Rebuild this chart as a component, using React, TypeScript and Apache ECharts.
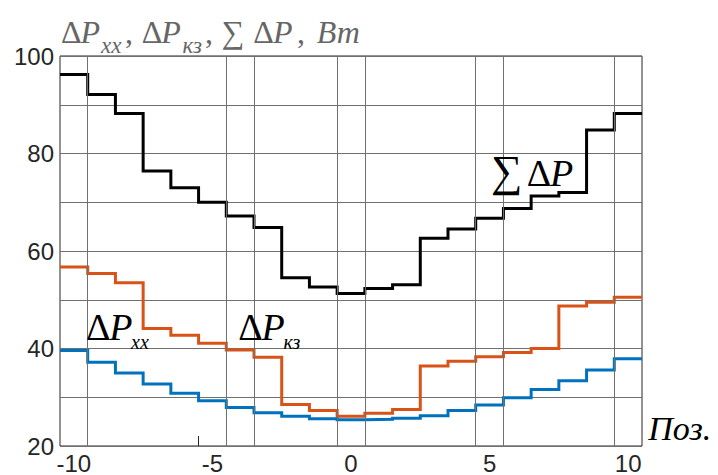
import React, { useEffect, useRef } from "react";
import * as echarts from "echarts";

// Positions (x categories)
const positions = [-10, -9, -8, -7, -6, -5, -4, -3, -2, -1, 0, 1, 2, 3, 4, 5, 6, 7, 8, 9, 10];
// ΣΔP (black)
const sumLoss = [96.2, 92.1, 88.2, 76.4, 73.0, 70.0, 67.2, 64.8, 54.5, 52.6, 51.3, 52.3, 53.1, 62.6, 64.5, 66.7, 68.7, 71.3, 72.0, 84.8, 88.2];
// ΔPкз (orange)
const shortCircuitLoss = [56.7, 55.4, 53.5, 44.1, 42.7, 41.1, 39.7, 38.2, 28.5, 27.3, 26.1, 26.7, 27.5, 36.4, 37.4, 38.3, 39.2, 40.0, 48.7, 49.5, 50.5];
// ΔPxx (blue)
const noLoadLoss = [39.6, 37.2, 35.0, 32.7, 30.8, 29.3, 27.9, 26.8, 26.1, 25.6, 25.4, 25.5, 25.7, 26.2, 27.3, 28.4, 29.9, 31.6, 33.4, 35.6, 37.9];

const xTickLabels = [-10, -5, 0, 5, 10];
const yTickLabels = [20, 40, 60, 80, 100];
const xGridLines = [-9.5, -4.5, -3.5, -0.5, 0.5, 4.5, 5.5, 9.5];
const xExtraTicks = [-5.5];

const stepData = (vals: number[]) =>
  positions.flatMap((p, i) => [
    [p - 0.5, vals[i]],
    [p + 0.5, vals[i]],
  ]);

const SERIF = "Liberation Serif";
const SANS = "Liberation Sans";

const T = (x: number, base: number, text: string, size: number, italic: boolean, color: string) => ({
  type: "text",
  x,
  y: base - 0.3375 * size,
  silent: true,
  z: 20,
  style: {
    text,
    fontFamily: SERIF,
    fontSize: size,
    fontStyle: italic ? "italic" : "normal",
    fill: color,
    align: "left",
    verticalAlign: "middle",
  },
});

export default function App() {
  const ref = useRef<HTMLDivElement>(null);
  useEffect(() => {
    if (!ref.current) return;
    const chart = echarts.init(ref.current, undefined, { renderer: "svg" });
    const gray = "#666666";
    const blk = "#000000";
    const tS = 32;
    const tSub = 23;
    const tB = 43;
    const tSB = 53;
    const lS = 38;
    const lSub = 20;
    const graphics = [
      // title
      T(61, tB, "Δ", tS, false, gray),
      T(80.6, tB, "P", tS, true, gray),
      T(101, tSB, "xx", tSub, true, gray),
      T(125, tB, ",", tS, false, gray),
      T(141.7, tB, "Δ", tS, false, gray),
      T(161.3, tB, "P", tS, true, gray),
      T(182.5, tSB, "кз", tSub, true, gray),
      T(205, tB, ",", tS, false, gray),
      T(221.7, tB, "∑", tS, false, gray),
      T(253.3, tB, "Δ", tS, false, gray),
      T(272.9, tB, "P", tS, true, gray),
      T(297, tB, ",", tS, false, gray),
      T(316.7, tB, "Вт", tS, true, gray),
      // ΔPxx
      T(86, 339.5, "Δ", lS, false, blk),
      T(109.3, 339.5, "P", lS, true, blk),
      T(131, 348.5, "xx", lSub, true, blk),
      // ΔPкз
      T(238.3, 339.5, "Δ", lS, false, blk),
      T(261.6, 339.5, "P", lS, true, blk),
      T(283.5, 348.5, "кз", lSub, true, blk),
      // ΣΔP
      T(491, 186.5, "∑", 44, false, blk),
      T(526.7, 185.5, "Δ", lS, false, blk),
      T(550, 185.5, "P", lS, true, blk),
      // Поз.
      T(648.3, 440, "Поз.", 34, true, blk),
    ];
    const lineSeries = (name: string, vals: number[], color: string) => ({
      name,
      type: "line",
      data: stepData(vals),
      symbol: "none",
      showSymbol: false,
      silent: true,
      z: 3,
      lineStyle: { color, width: 3, join: "miter" },
    });
    chart.setOption({
      animation: false,
      grid: {
        left: 60,
        right: 76,
        top: 56,
        bottom: 29,
        show: true,
        borderColor: "#262626",
        borderWidth: 1,
        backgroundColor: "transparent",
        containLabel: false,
        outerBoundsMode: "none",
      },
      xAxis: {
        type: "value",
        min: -10.5,
        max: 10.5,
        axisLine: { show: false },
        splitLine: { show: false },
        axisTick: {
          show: true,
          inside: true,
          length: 10,
          customValues: xExtraTicks,
          lineStyle: { color: "#262626", width: 1 },
        },
        axisLabel: {
          customValues: xTickLabels,
          fontSize: 24,
          fontFamily: SANS,
          color: "#262626",
          margin: 5,
        },
      },
      yAxis: {
        type: "value",
        min: 20,
        max: 100,
        interval: 10,
        axisLine: { show: false },
        axisTick: { show: false },
        splitLine: { show: true, lineStyle: { color: "#707070", width: 1 } },
        axisLabel: {
          customValues: yTickLabels,
          fontSize: 24,
          fontFamily: SANS,
          color: "#262626",
          margin: 6,
        },
      },
      series: [
        {
          type: "line",
          data: [],
          silent: true,
          z: 1,
          markLine: {
            silent: true,
            symbol: ["none", "none"],
            label: { show: false },
            lineStyle: { color: "#707070", width: 1, type: "solid" },
            data: xGridLines.map((x) => ({ xAxis: x })),
          },
        },
        lineSeries("ΣΔP", sumLoss, "#000000"),
        lineSeries("ΔPкз", shortCircuitLoss, "#D95319"),
        lineSeries("ΔPxx", noLoadLoss, "#0072BD"),
      ],
      graphic: graphics,
    });
    return () => chart.dispose();
  }, []);
  return (
    <div
      ref={ref}
      style={{ position: "absolute", left: 0, top: 0, width: 718, height: 475, background: "#fff" }}
    />
  );
}
